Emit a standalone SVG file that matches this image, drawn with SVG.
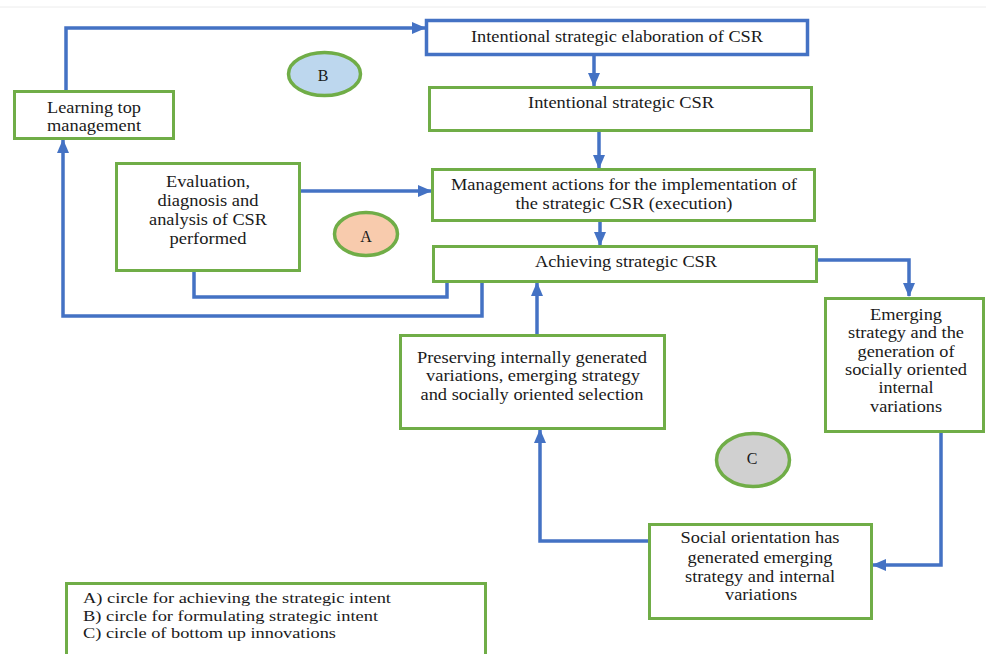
<svg xmlns="http://www.w3.org/2000/svg" width="986" height="654" viewBox="0 0 986 654" font-family="'Liberation Serif', 'DejaVu Serif', serif">
<style>
.box{fill:#fff;stroke:#70ad47;stroke-width:3}
.bbox{fill:#fff;stroke:#4472c4;stroke-width:3.5}
.circ{stroke:#70ad47;stroke-width:3.5}
.conn{fill:none;stroke:#4472c4;stroke-width:3.5}
text{font-family:'Liberation Serif','DejaVu Serif',serif;font-size:16px;fill:#1a1a1a;text-anchor:middle}
text.leg{text-anchor:start;font-size:14px}
</style>
<defs>
<marker id="ah" markerUnits="userSpaceOnUse" markerWidth="14" markerHeight="14" viewBox="0 0 14 14" refX="13" refY="7" orient="auto">
<path d="M0,1 L14,7 L0,13 Z" fill="#4472c4"/>
</marker>
</defs>
<rect width="986" height="654" fill="#fff"/>
<line x1="0" y1="7" x2="986" y2="7" stroke="#ececec" stroke-width="1"/>

<g id="connectors">
<path class="conn" d="M66,91 V28 H425" marker-end="url(#ah)"/>
<path class="conn" d="M594,56 V86" marker-end="url(#ah)"/>
<path class="conn" d="M599,132 V168" marker-end="url(#ah)"/>
<path class="conn" d="M301,191 H431" marker-end="url(#ah)"/>
<path class="conn" d="M600,222 V245" marker-end="url(#ah)"/>
<path class="conn" d="M194,272 V297 H447 V283"/>
<path class="conn" d="M482,283 V316 H63 V140" marker-end="url(#ah)"/>
<path class="conn" d="M537,334 V283" marker-end="url(#ah)"/>
<path class="conn" d="M818,260 H909 V296" marker-end="url(#ah)"/>
<path class="conn" d="M941,433 V565 H873" marker-end="url(#ah)"/>
<path class="conn" d="M648,541 H540 V430" marker-end="url(#ah)"/>
</g>

<g id="learning">
<rect class="box" x="14.5" y="91.5" width="159" height="47"/>
<text x="94" y="113" textLength="94" lengthAdjust="spacingAndGlyphs">Learning top</text>
<text x="94" y="131" textLength="94" lengthAdjust="spacingAndGlyphs">management</text>
</g>

<g id="elaboration">
<rect class="bbox" x="426.5" y="20.5" width="381" height="34"/>
<text x="617" y="42" textLength="292" lengthAdjust="spacingAndGlyphs">Intentional strategic elaboration of CSR</text>
</g>

<g id="intentional">
<rect class="box" x="429.5" y="87.5" width="382" height="43"/>
<text x="621" y="108" textLength="186" lengthAdjust="spacingAndGlyphs">Intentional strategic CSR</text>
</g>

<g id="evaluation">
<rect class="box" x="116.5" y="163.5" width="183" height="107"/>
<text x="208" y="187" textLength="84" lengthAdjust="spacingAndGlyphs">Evaluation,</text>
<text x="208" y="206" textLength="101" lengthAdjust="spacingAndGlyphs">diagnosis and</text>
<text x="208" y="225" textLength="118" lengthAdjust="spacingAndGlyphs">analysis of CSR</text>
<text x="208" y="244" textLength="77" lengthAdjust="spacingAndGlyphs">performed</text>
</g>

<g id="management">
<rect class="box" x="432.5" y="169.5" width="382" height="51"/>
<text x="624" y="190" textLength="346" lengthAdjust="spacingAndGlyphs">Management actions for the implementation of</text>
<text x="624" y="209" textLength="217" lengthAdjust="spacingAndGlyphs">the strategic CSR (execution)</text>
</g>

<g id="achieving">
<rect class="box" x="433.5" y="246.5" width="383" height="35"/>
<text x="626" y="267" textLength="182" lengthAdjust="spacingAndGlyphs">Achieving strategic CSR</text>
</g>

<g id="emerging">
<rect class="box" x="825.5" y="298.5" width="158" height="133"/>
<text x="906" y="320" textLength="72" lengthAdjust="spacingAndGlyphs">Emerging</text>
<text x="906" y="338" textLength="116" lengthAdjust="spacingAndGlyphs">strategy and the</text>
<text x="906" y="357" textLength="97" lengthAdjust="spacingAndGlyphs">generation of</text>
<text x="906" y="375" textLength="122" lengthAdjust="spacingAndGlyphs">socially oriented</text>
<text x="906" y="393" textLength="55" lengthAdjust="spacingAndGlyphs">internal</text>
<text x="906" y="412" textLength="72" lengthAdjust="spacingAndGlyphs">variations</text>
</g>

<g id="preserving">
<rect class="box" x="400.5" y="335.5" width="264" height="93"/>
<text x="532" y="363" textLength="230" lengthAdjust="spacingAndGlyphs">Preserving internally generated</text>
<text x="533" y="381" textLength="214" lengthAdjust="spacingAndGlyphs">variations, emerging strategy</text>
<text x="532" y="400" textLength="223" lengthAdjust="spacingAndGlyphs">and socially oriented selection</text>
</g>

<g id="social">
<rect class="box" x="649.5" y="524.5" width="222" height="94"/>
<text x="760" y="543" textLength="159" lengthAdjust="spacingAndGlyphs">Social orientation has</text>
<text x="760" y="563" textLength="145" lengthAdjust="spacingAndGlyphs">generated emerging</text>
<text x="760" y="582" textLength="150" lengthAdjust="spacingAndGlyphs">strategy and internal</text>
<text x="761" y="600" textLength="72" lengthAdjust="spacingAndGlyphs">variations</text>
</g>

<g id="circle-b">
<ellipse class="circ" cx="324.5" cy="74" rx="36" ry="21.5" fill="#bdd7ee"/>
<text x="323" y="81">B</text>
</g>
<g id="circle-a">
<ellipse class="circ" cx="366" cy="234" rx="31.5" ry="21.5" fill="#f8cbad"/>
<text x="366" y="242">A</text>
</g>
<g id="circle-c">
<ellipse class="circ" cx="753" cy="460" rx="36.5" ry="26.5" fill="#d0d0d0"/>
<text x="752" y="464">C</text>
</g>

<g id="legend">
<rect class="box" x="66.5" y="583.5" width="419" height="80"/>
<text class="leg" x="83" y="603" textLength="308" lengthAdjust="spacingAndGlyphs">A) circle for achieving the strategic intent</text>
<text class="leg" x="83" y="621" textLength="295" lengthAdjust="spacingAndGlyphs">B) circle for formulating strategic intent</text>
<text class="leg" x="83" y="638" textLength="253" lengthAdjust="spacingAndGlyphs">C) circle of bottom up innovations</text>
</g>
</svg>
